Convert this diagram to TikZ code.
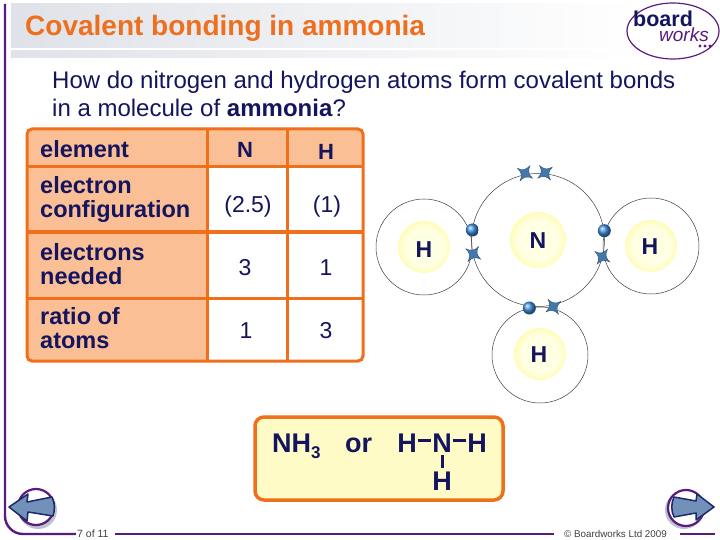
\documentclass[tikz,border=0pt]{standalone}
\usepackage{fontspec}
\setmainfont{Liberation Sans}
\usetikzlibrary{shapes.geometric}
\definecolor{navy}{HTML}{14145F}
\definecolor{orangeT}{HTML}{EE6F1E}
\definecolor{orangeL}{HTML}{EF6F1A}
\definecolor{peach}{HTML}{FABF95}
\definecolor{cream}{HTML}{FFFBC6}
\definecolor{purp}{HTML}{5B1A7E}
\definecolor{barg}{HTML}{DFE2E8}
\definecolor{elec}{HTML}{3D8FDD}
\definecolor{star}{HTML}{4478A8}
\definecolor{stard}{HTML}{2A5580}
\definecolor{btn}{HTML}{7391B8}
\definecolor{btnd}{HTML}{1B2A6B}
\definecolor{shad}{HTML}{BCC3CF}
\definecolor{ga}{HTML}{FFFFE4}
\definecolor{gb}{HTML}{FFF878}
\definecolor{gc}{HTML}{FFFAA0}
\pgfdeclareradialshading{glowsh}{\pgfpoint{0cm}{0cm}}{color(0bp)=(ga); color(18bp)=(ga); color(35bp)=(gb); color(41bp)=(gc); color(50bp)=(white)}
\newcommand{\fsz}[2]{\fontsize{#1}{#2}\selectfont}
\tikzset{
  x=1pt,y=-1pt,
  shell/.style={circle,draw=black!75,line width=0.5pt,inner sep=0pt,minimum size=96pt},
  nucshell/.style={shell,minimum size=133pt},
  glow/.style={circle,shading=glowsh,inner sep=0pt,minimum size=#1},
  atomlbl/.style={font=\bfseries\fsz{23}{25},text=navy,inner sep=0pt},
  ballE/.style={circle,ball color=elec,inner sep=0pt,minimum size=13pt},
  lab/.style={anchor=base west,align=left,inner sep=0pt,font=\bfseries\fsz{23.5}{24},text=navy},
  hd/.style={anchor=base,inner sep=0pt,font=\bfseries\fsz{22}{24},text=navy},
  val/.style={anchor=base,inner sep=0pt,font=\fsz{23}{25},text=navy},
  tline/.style={draw=orangeL,line width=3pt},
  fml/.style={anchor=base,inner sep=1pt,font=\bfseries\fsz{27}{29},text=navy},
  bond/.style={draw=navy,line width=3pt},
  foot/.style={anchor=base west,inner sep=0pt,font=\fsz{10.5}{12},text=black!75},
  purple rule/.style={draw=purp,line width=2.4pt},
  crosse/.pic={\path[fill=star,draw=stard,line width=0.4pt,rotate=45]
    (9,0) .. controls (3.4,1) and (1,3.4) .. (0,9)
    .. controls (-1,3.4) and (-3.4,1) .. (-9,0)
    .. controls (-3.4,-1) and (-1,-3.4) .. (0,-9)
    .. controls (1,-3.4) and (3.4,-1) .. (9,0) -- cycle;}
}
\begin{document}
\begin{tikzpicture}
\useasboundingbox (0,0) rectangle (720,540);
\fill[white] (0,0) rectangle (720,540);
% header
\shade[left color=barg,right color=white] (11,4) rectangle (640,48);
\shade[left color=barg,right color=white] (11,51) rectangle (640,58);
\node[anchor=base west,inner sep=0pt,font=\bfseries\fsz{28}{30},text=orangeT] (title) at (25,36) {Covalent bonding in ammonia};
% logo
\node[ellipse,draw=purp,line width=1.2pt,minimum width=92pt,minimum height=56pt,inner sep=0pt] (logo) at (673,31) {};
\node[anchor=base west,inner sep=0pt,font=\bfseries\fsz{21.5}{23},text=navy] (board) at (633,27) {board};
\node[anchor=base west,inner sep=0pt,font=\itshape\fsz{19}{21},text=purp] (works) at (659,42) {works};
\fill[purp] (700,46) circle (1.7) (705,46) circle (1.7) (710,46) circle (1.7);
% frame
\draw[purple rule,rounded corners=18pt] (5,4) -- (5,534) -- (76,534);
\draw[purple rule] (115,534) -- (554,534);
\draw[purple rule] (680,534) -- (715,534);
\node[foot] (pg) at (77,537.5) {7 of 11};
\node[foot,font=\fsz{9.8}{11}] (copy) at (564,537.5) {© Boardworks Ltd 2009};
% question
\node[anchor=base west,align=left,inner sep=0pt,font=\fsz{24}{28},text=navy] (q) at (52,117) {How do nitrogen and hydrogen atoms form covalent bonds\\in a molecule of \textbf{ammonia}?};
% table
\path[fill=peach,rounded corners=5pt] (27,129) rectangle (363,361);
\fill[white] (207,167) rectangle (362,360);
\draw[tline] (207,129) -- (207,361);
\draw[tline] (287,129) -- (287,361);
\draw[tline] (27,167) -- (363,167);
\draw[tline] (27,232) -- (363,232);
\draw[tline] (27,298) -- (363,298);
\draw[tline,rounded corners=5pt] (27,129) rectangle (363,361);
\node[lab] (l1) at (40,158) {element};
\node[lab] (l2) at (40,218) {electron\\configuration};
\node[lab] (l3) at (40,284) {electrons\\needed};
\node[lab] (l4) at (40,348) {ratio of\\atoms};
\node[hd] (hN) at (245,158) {N};
\node[hd] (hH) at (326,160) {H};
\node[val] (c1) at (248,213) {(2.5)};
\node[val] (c2) at (327,213) {(1)};
\node[val] (n1) at (245,275) {3};
\node[val] (n2) at (326,275) {1};
\node[val] (r1) at (246,338) {1};
\node[val] (r2) at (326,338) {3};
% atoms
\node[glow=56pt] (gN) at (538,240) {};
\node[glow=52pt] (gL) at (424,247) {};
\node[glow=52pt] (gR) at (651,246) {};
\node[glow=52pt] (gB) at (540,354) {};
\node[nucshell] (sN) at (538,240) {};
\node[shell] (sL) at (424,247) {};
\node[shell] (sR) at (651,246) {};
\node[shell] (sB) at (540,355) {};
\node[atomlbl] (aN) at (538,241) {N};
\node[atomlbl] (aL) at (424,250) {H};
\node[atomlbl] (aR) at (650,247) {H};
\node[atomlbl] (aB) at (539,355) {H};
\node[ballE] (e1) at (472.3,230) {};
\node[ballE] (e2) at (604.3,230.7) {};
\node[ballE] (e3) at (529.3,308) {};
\pic[rotate=12] at (525,173.3) {crosse};
\pic[rotate=-8] at (545,172.7) {crosse};
\pic[rotate=10] at (473.3,254) {crosse};
\pic[rotate=10] at (602.3,256.7) {crosse};
\pic[rotate=-10] at (553.3,306.7) {crosse};
% formula
\node[draw=orangeL,fill=cream,line width=3.5pt,rounded corners=9pt,minimum width=248pt,minimum height=83pt,inner sep=0pt] (box) at (379,458.5) {};
\node[anchor=base west,inner sep=0pt,font=\bfseries\fsz{27}{29},text=navy] (nh3) at (272,452) {NH\raisebox{-6pt}{\fsz{17}{19}3}};
\node[anchor=base west,inner sep=0pt,font=\bfseries\fsz{27}{29},text=navy] (or) at (345,452) {or};
\node[fml] (h1) at (407,452) {H};
\node[fml] (nn) at (442,452) {N};
\node[fml] (h2) at (477,452) {H};
\node[fml] (h3) at (442,490) {H};
\draw[bond] ([yshift=2pt]h1.east) -- ([yshift=2pt]nn.west);
\draw[bond] ([yshift=2pt]nn.east) -- ([yshift=2pt]h2.west);
\draw[bond] ([yshift=-2pt]nn.south) -- ([yshift=2pt]h3.north);
% nav buttons
\fill[shad] (38,510) circle (19);
\draw[fill=white,draw=purp,line width=2.2pt] (36,507) circle (18);
\draw[fill=btn,draw=btnd,line width=1.5pt,line join=round] (9,507) -- (28,494) -- (27,502) -- (52,497) .. controls (55,503) and (55,510) .. (53,516) -- (28,512) -- (27,521) -- cycle;
\fill[shad] (684,510) circle (19);
\draw[fill=white,draw=purp,line width=2.2pt] (686,508) circle (18);
\draw[fill=btn,draw=btnd,line width=1.5pt,line join=round] (714,507) -- (697,494) -- (696,501) -- (674,497) .. controls (671,503) and (671,511) .. (674,517) -- (696,513) -- (696,520) -- cycle;
\end{tikzpicture}
\end{document}
